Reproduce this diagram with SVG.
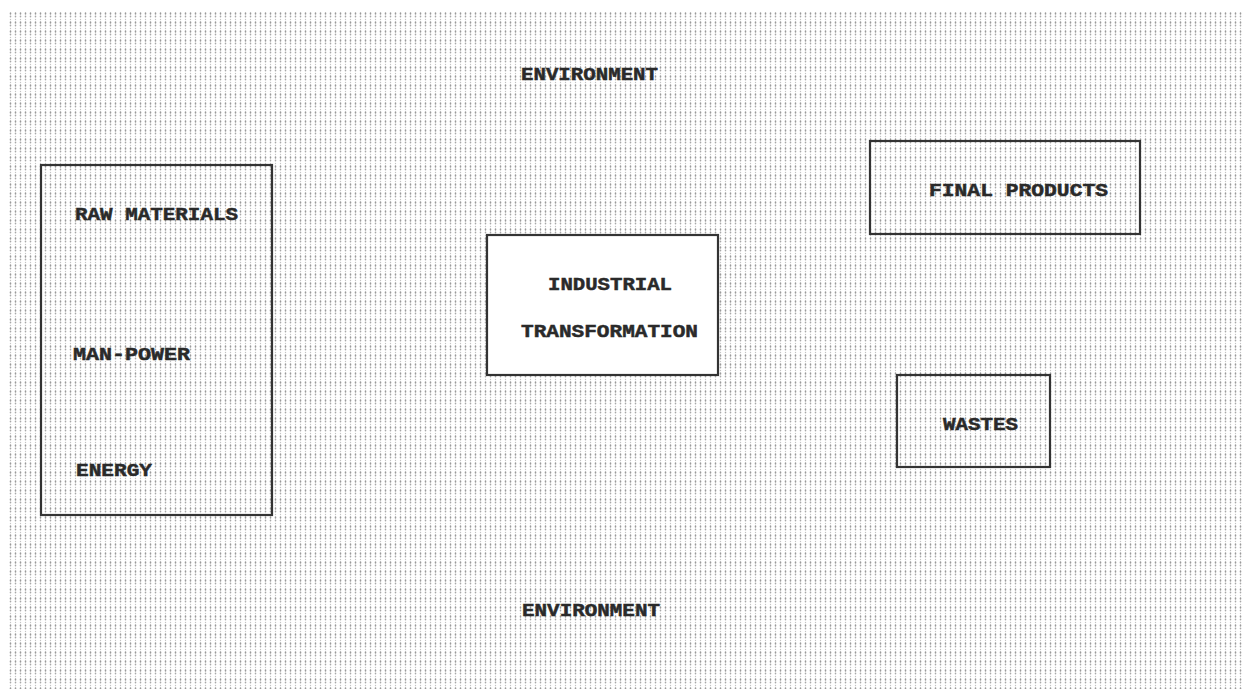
<svg xmlns="http://www.w3.org/2000/svg" width="1246" height="689" viewBox="0 0 1246 689">
<defs>
<pattern id="dots" x="8" y="12" width="5" height="9" patternUnits="userSpaceOnUse">
<ellipse cx="2.5" cy="1.5" rx="0.8" ry="1.2" fill="#9a9a9a"/>
<ellipse cx="2.5" cy="4.5" rx="0.8" ry="1.1" fill="#a8a8a8"/>
<ellipse cx="2.5" cy="7.5" rx="0.7" ry="0.8" fill="#c4c4c4"/>
</pattern>
</defs>
<style>
.box{fill:none;stroke:#333;stroke-width:2.2}
.wbox{fill:#fff;stroke:#333;stroke-width:2.2}
.t{font-family:"Liberation Mono","DejaVu Sans Mono",monospace;font-weight:bold;font-size:19px;fill:#2a2a2a;stroke:#2a2a2a;stroke-width:0.5}
</style>
<rect width="1246" height="689" fill="#fff"/>
<rect x="8" y="12" width="1235" height="677" fill="url(#dots)"/>
<g id="env-top"><text class="t" x="521" y="80" textLength="137" lengthAdjust="spacingAndGlyphs">ENVIRONMENT</text></g>
<g id="inputs">
<rect class="box" x="41" y="165" width="231" height="350"/>
<text class="t" x="75" y="220" textLength="163" lengthAdjust="spacingAndGlyphs">RAW MATERIALS</text>
<text class="t" x="73" y="360" textLength="117" lengthAdjust="spacingAndGlyphs">MAN-POWER</text>
<text class="t" x="76" y="476" textLength="76" lengthAdjust="spacingAndGlyphs">ENERGY</text>
</g>
<g id="industrial">
<rect class="wbox" x="487" y="235" width="231" height="140"/>
<text class="t" x="548" y="290" textLength="124" lengthAdjust="spacingAndGlyphs">INDUSTRIAL</text>
<text class="t" x="521" y="337" textLength="177" lengthAdjust="spacingAndGlyphs">TRANSFORMATION</text>
</g>
<g id="final-products">
<rect class="box" x="870" y="141" width="270" height="93"/>
<text class="t" x="929" y="196" textLength="179" lengthAdjust="spacingAndGlyphs">FINAL PRODUCTS</text>
</g>
<g id="wastes">
<rect class="box" x="897" y="375" width="153" height="92"/>
<text class="t" x="943" y="430" textLength="75" lengthAdjust="spacingAndGlyphs">WASTES</text>
</g>
<g id="env-bottom"><text class="t" x="522" y="616" textLength="138" lengthAdjust="spacingAndGlyphs">ENVIRONMENT</text></g>
<g id="connectors"></g>
</svg>
